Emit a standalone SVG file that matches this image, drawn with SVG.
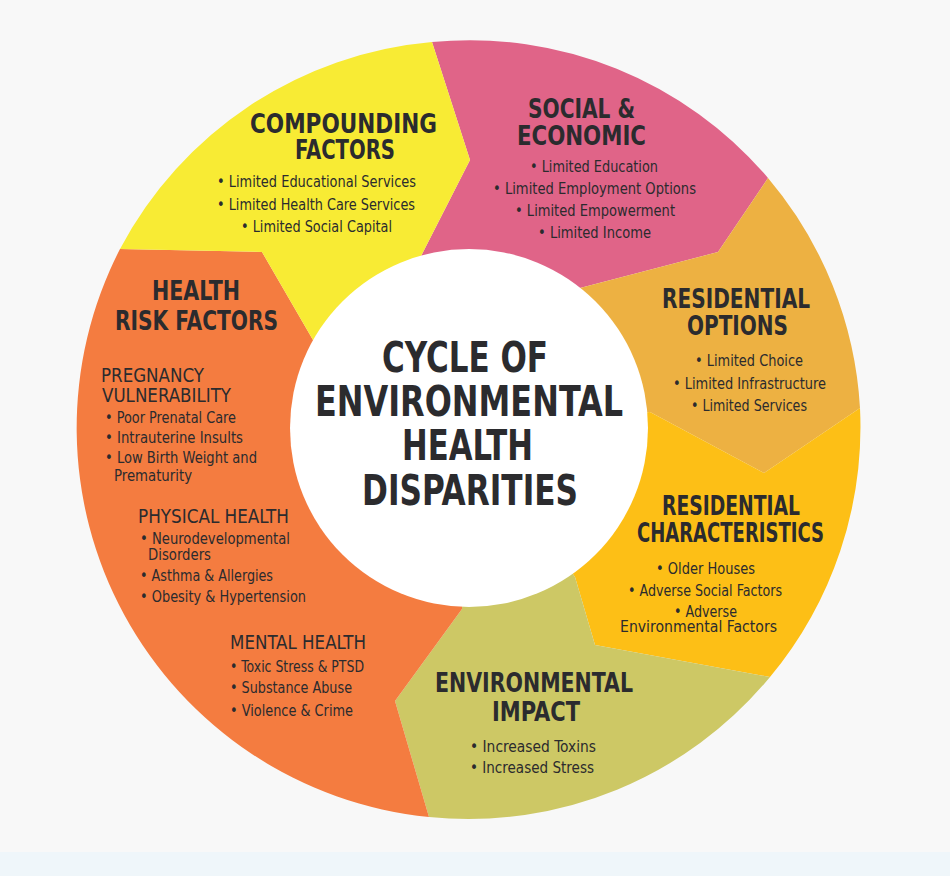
<svg xmlns="http://www.w3.org/2000/svg" width="950" height="876" viewBox="0 0 950 876">
<style>
text{font-family:"DejaVu Sans Condensed","DejaVu Sans","Liberation Sans",sans-serif;fill:#2b2b2e}
.h{font-weight:bold;font-size:26px;text-anchor:middle}
.c{font-weight:bold;font-size:43px;text-anchor:middle}
.s{font-size:20px}
.b{font-size:15.5px}
.m{text-anchor:middle}
</style>
<rect x="0" y="0" width="950" height="876" fill="#f8f8f8"/>
<rect x="0" y="852" width="950" height="24" fill="#eff6fa"/>
<g id="social-economic">
<path d="M469,428 L418,262 L470,160 L432,42 A391,391 0 0 1 768,178 L718,252 L580,288 Z" fill="#e06488"/>
<text class="h" x="581.5" y="118" textLength="107" lengthAdjust="spacingAndGlyphs">SOCIAL &amp;</text>
<text class="h" x="581.5" y="145" textLength="129" lengthAdjust="spacingAndGlyphs">ECONOMIC</text>
<text class="b m" x="594" y="172" textLength="128" lengthAdjust="spacingAndGlyphs">• Limited Education</text>
<text class="b m" x="594.5" y="194" textLength="203" lengthAdjust="spacingAndGlyphs">• Limited Employment Options</text>
<text class="b m" x="595" y="216" textLength="160" lengthAdjust="spacingAndGlyphs">• Limited Empowerment</text>
<text class="b m" x="594.5" y="238" textLength="113" lengthAdjust="spacingAndGlyphs">• Limited Income</text>
</g>
<g id="residential-options">
<path d="M469,428 L580,288 L718,252 L768,178 A391,391 0 0 1 860,408 L764,473 L650,412 Z" fill="#edb142"/>
<text class="h" x="736" y="308" textLength="148" lengthAdjust="spacingAndGlyphs">RESIDENTIAL</text>
<text class="h" x="737.5" y="335" textLength="101" lengthAdjust="spacingAndGlyphs">OPTIONS</text>
<text class="b m" x="749" y="366" textLength="108" lengthAdjust="spacingAndGlyphs">• Limited Choice</text>
<text class="b m" x="749.5" y="389" textLength="153" lengthAdjust="spacingAndGlyphs">• Limited Infrastructure</text>
<text class="b m" x="749" y="411" textLength="116" lengthAdjust="spacingAndGlyphs">• Limited Services</text>
</g>
<g id="residential-characteristics">
<path d="M469,428 L650,412 L764,473 L860,408 A391,391 0 0 1 770,677 L595,645 L575,577 Z" fill="#fdbf16"/>
<text class="h" x="731" y="515" textLength="138" lengthAdjust="spacingAndGlyphs">RESIDENTIAL</text>
<text class="h" x="730.5" y="542" textLength="187" lengthAdjust="spacingAndGlyphs">CHARACTERISTICS</text>
<text class="b m" x="705.5" y="574" textLength="99" lengthAdjust="spacingAndGlyphs">• Older Houses</text>
<text class="b m" x="705" y="596" textLength="154" lengthAdjust="spacingAndGlyphs">• Adverse Social Factors</text>
<text class="b m" x="705.5" y="617" textLength="63" lengthAdjust="spacingAndGlyphs">• Adverse</text>
<text class="b m" x="698.5" y="632" textLength="157" lengthAdjust="spacingAndGlyphs">Environmental Factors</text>
</g>
<g id="environmental-impact">
<path d="M469,428 L575,577 L595,645 L770,677 A391,391 0 0 1 429,817 L395,701 L462,609 Z" fill="#cdc865"/>
<text class="h" x="534" y="692" textLength="198" lengthAdjust="spacingAndGlyphs">ENVIRONMENTAL</text>
<text class="h" x="536" y="721" textLength="88" lengthAdjust="spacingAndGlyphs">IMPACT</text>
<text class="b m" x="533" y="752" textLength="126" lengthAdjust="spacingAndGlyphs">• Increased Toxins</text>
<text class="b m" x="532" y="773" textLength="124" lengthAdjust="spacingAndGlyphs">• Increased Stress</text>
</g>
<g id="health-risk-factors">
<path d="M469,428 L462,609 L395,701 L429,817 A391,391 0 0 1 120,249 L262,252 L313,340 Z" fill="#f47c40"/>
<text class="h" x="196" y="300" textLength="88" lengthAdjust="spacingAndGlyphs">HEALTH</text>
<text class="h" x="196.5" y="330" textLength="163" lengthAdjust="spacingAndGlyphs">RISK FACTORS</text>
<text class="s" x="101" y="382" textLength="103" lengthAdjust="spacingAndGlyphs">PREGNANCY</text>
<text class="s" x="102" y="402" textLength="129" lengthAdjust="spacingAndGlyphs">VULNERABILITY</text>
<text class="b" x="105" y="423" textLength="131" lengthAdjust="spacingAndGlyphs">• Poor Prenatal Care</text>
<text class="b" x="105" y="443" textLength="138" lengthAdjust="spacingAndGlyphs">• Intrauterine Insults</text>
<text class="b" x="105" y="463" textLength="152" lengthAdjust="spacingAndGlyphs">• Low Birth Weight and</text>
<text class="b" x="114" y="481" textLength="78" lengthAdjust="spacingAndGlyphs">Prematurity</text>
<text class="s" x="138" y="523" textLength="151" lengthAdjust="spacingAndGlyphs">PHYSICAL HEALTH</text>
<text class="b" x="140" y="544" textLength="150" lengthAdjust="spacingAndGlyphs">• Neurodevelopmental</text>
<text class="b" x="148" y="560" textLength="63" lengthAdjust="spacingAndGlyphs">Disorders</text>
<text class="b" x="140" y="581" textLength="133" lengthAdjust="spacingAndGlyphs">• Asthma &amp; Allergies</text>
<text class="b" x="140" y="602" textLength="166" lengthAdjust="spacingAndGlyphs">• Obesity &amp; Hypertension</text>
<text class="s" x="230" y="649" textLength="136" lengthAdjust="spacingAndGlyphs">MENTAL HEALTH</text>
<text class="b" x="230" y="672" textLength="134" lengthAdjust="spacingAndGlyphs">• Toxic Stress &amp; PTSD</text>
<text class="b" x="230" y="693" textLength="122" lengthAdjust="spacingAndGlyphs">• Substance Abuse</text>
<text class="b" x="230" y="716" textLength="123" lengthAdjust="spacingAndGlyphs">• Violence &amp; Crime</text>
</g>
<g id="compounding-factors">
<path d="M469,428 L313,340 L262,252 L120,249 A391,391 0 0 1 432,42 L470,160 L418,262 Z" fill="#f8eb34"/>
<text class="h" x="343.5" y="133" textLength="187" lengthAdjust="spacingAndGlyphs">COMPOUNDING</text>
<text class="h" x="345" y="159" textLength="100" lengthAdjust="spacingAndGlyphs">FACTORS</text>
<text class="b m" x="316.5" y="187" textLength="199" lengthAdjust="spacingAndGlyphs">• Limited Educational Services</text>
<text class="b m" x="316" y="210" textLength="198" lengthAdjust="spacingAndGlyphs">• Limited Health Care Services</text>
<text class="b m" x="316.5" y="232" textLength="151" lengthAdjust="spacingAndGlyphs">• Limited Social Capital</text>
</g>
<g id="center">
<circle cx="469" cy="428" r="179" fill="#ffffff"/>
<text class="c" x="465" y="372" textLength="166" lengthAdjust="spacingAndGlyphs">CYCLE OF</text>
<text class="c" x="469" y="416" textLength="308" lengthAdjust="spacingAndGlyphs">ENVIRONMENTAL</text>
<text class="c" x="467.5" y="460" textLength="131" lengthAdjust="spacingAndGlyphs">HEALTH</text>
<text class="c" x="470" y="505" textLength="216" lengthAdjust="spacingAndGlyphs">DISPARITIES</text>
</g>
<g id="connectors"/>
</svg>
